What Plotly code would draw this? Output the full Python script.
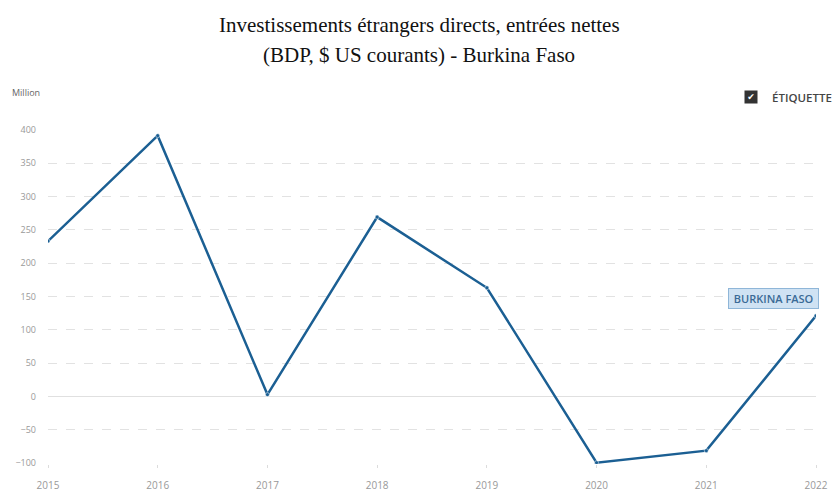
import plotly.graph_objects as go

years = [2015, 2016, 2017, 2018, 2019, 2020, 2021, 2022]
values = [233, 391, 3, 269, 163, -99, -81, 121]
y_ticks = [-100, -50, 0, 50, 100, 150, 200, 250, 300, 350, 400]
series_name = "BURKINA FASO"
title_lines = ["Investissements étrangers directs, entrées nettes",
               "(BDP, $ US courants) - Burkina Faso"]

fig = go.Figure()
fig.add_trace(go.Scatter(
    x=years, y=values, mode="lines+markers",
    line=dict(color="#1b5f93", width=2.5),
    marker=dict(size=4, color="#1b5f93", line=dict(color="white", width=0.5)),
    name=series_name, showlegend=False,
))

fig.update_layout(
    width=838, height=498,
    margin=dict(l=48, r=22, t=129, b=34),
    paper_bgcolor="white", plot_bgcolor="white",
    xaxis=dict(
        range=[2015, 2022], tickvals=years, ticktext=[str(y) for y in years],
        showgrid=False, zeroline=False, showline=False, automargin=False,
        ticks="outside", ticklen=3, tickcolor="#dcdcdc",
        ticklabelstandoff=9,
        tickfont=dict(family="Open Sans, sans-serif", size=10, color="#999"),
    ),
    yaxis=dict(
        range=[-101, 401], tickvals=y_ticks, automargin=False,
        showgrid=True, gridcolor="#e2e2e2", griddash="dash", gridwidth=1,
        zeroline=True, zerolinecolor="#e0e0e0", zerolinewidth=1,
        showline=False, ticks="",
        tickfont=dict(family="Open Sans, sans-serif", size=9, color="#999"),
        ticklabelstandoff=11,
    ),
    font=dict(family="Open Sans, sans-serif"),
)

for i, line in enumerate(title_lines):
    fig.add_annotation(
        text=line, xref="paper", yref="paper",
        x=(419 - 48) / 768, y=1 + (129 - 25 - 30 * i) / 335,
        xanchor="center", yanchor="middle", showarrow=False,
        font=dict(family="Liberation Serif, Times New Roman, serif", size=21, color="#111"),
    )

fig.add_annotation(
    text="Million", xref="paper", yref="paper", x=-0.05, y=1.11,
    xanchor="left", yanchor="middle", showarrow=False,
    font=dict(family="Open Sans, sans-serif", size=9, color="#666"),
)
fig.add_annotation(
    text="ÉTIQUETTE", xref="paper", yref="paper", x=1.024, y=1.095,
    xanchor="right", yanchor="middle", showarrow=False,
    font=dict(family="Open Sans, sans-serif", size=11.5, color="#444", weight=600),
)
fig.add_annotation(
    text="✔", xref="paper", yref="paper", x=0.925, y=1.095,
    xanchor="right", yanchor="middle", showarrow=False,
    bgcolor="#333", borderpad=0, width=12, height=12,
    font=dict(family="DejaVu Sans", size=9, color="white"),
)
fig.add_annotation(
    text="&nbsp;" + series_name + "&nbsp;", x=years[-1], y=values[-1],
    xanchor="right", yanchor="bottom", xshift=3,
    showarrow=False, yshift=7,
    bgcolor="#cfe2f3", bordercolor="#8fb6d8", borderwidth=1, borderpad=2,
    font=dict(family="Open Sans, sans-serif", size=11, color="#3a6a96", weight=600),
)

fig.write_html("out.html")
